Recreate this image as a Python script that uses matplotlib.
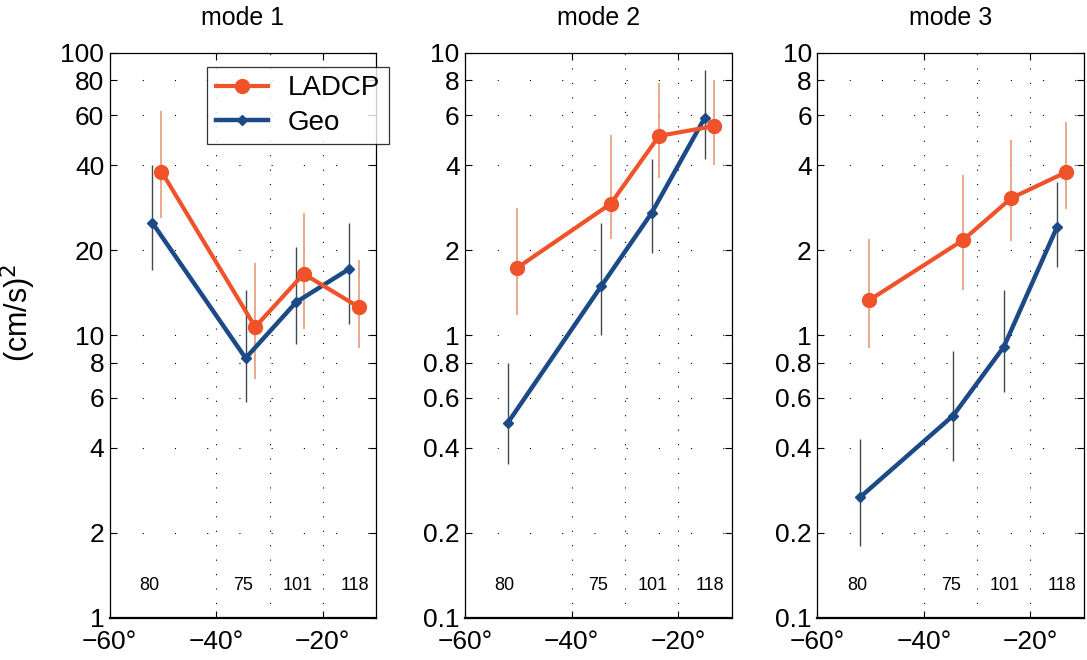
import matplotlib
matplotlib.use('Agg')
import matplotlib.pyplot as plt
from matplotlib.ticker import FixedLocator, NullLocator

plt.rcParams['font.family'] = ['Liberation Sans', 'DejaVu Sans']

# latitud de cada estación (las dos series están un poco desplazadas)
lat_ladcp = [-50.3, -32.7, -23.6, -13.3]
lat_geo = [-52.0, -34.5, -25.0, -15.0]
stations = ['80', '75', '101', '118']
station_x = [-52.6, -35.0, -24.8, -14.0]

titles = ['mode 1', 'mode 2', 'mode 3']

# LADCP: valor, límite superior e inferior de la barra de error
ladcp = [[38, 10.7, 16.5, 12.6], [1.73, 2.92, 5.08, 5.5], [1.33, 2.17, 3.06, 3.78]]
ladcp_hi = [[62, 18, 27, 18.5], [2.82, 5.1, 7.8, 8.0], [2.2, 3.7, 4.9, 5.7]]
ladcp_lo = [[26, 7.0, 10.5, 9.0], [1.18, 2.2, 3.6, 4.0], [0.9, 1.45, 2.15, 2.8]]

# Geostrófico
geo = [[25, 8.3, 13.1, 17.2], [0.49, 1.49, 2.71, 5.9], [0.267, 0.52, 0.91, 2.42]]
geo_hi = [[40, 14.5, 20.5, 25], [0.8, 2.5, 4.2, 8.7], [0.43, 0.88, 1.45, 3.5]]
geo_lo = [[17, 5.8, 9.3, 11], [0.35, 1.0, 1.95, 4.2], [0.18, 0.36, 0.63, 1.75]]

ylims = [(1, 100), (0.1, 10), (0.1, 10)]
yticks = [[1, 2, 4, 6, 8, 10, 20, 40, 60, 80, 100],
          [0.1, 0.2, 0.4, 0.6, 0.8, 1, 2, 4, 6, 8, 10],
          [0.1, 0.2, 0.4, 0.6, 0.8, 1, 2, 4, 6, 8, 10]]
xticks = [-60, -40, -20]

c_ladcp = '#F0522A'
c_ladcp_err = '#E89A78'
c_geo = '#1B4A86'
c_geo_err = '#404850'


def err(v, hi, lo):
    return [[a - b for a, b in zip(v, lo)], [b - a for a, b in zip(v, hi)]]


fig = plt.figure(figsize=(10.87, 6.6), dpi=100)
lefts = [0.101, 0.428, 0.752]
width = 0.245
axes = []
for i in range(3):
    ax = fig.add_axes([lefts[i], 0.064, width, 0.856])
    axes.append(ax)

    ax.errorbar(lat_ladcp, ladcp[i], yerr=err(ladcp[i], ladcp_hi[i], ladcp_lo[i]),
                fmt='none', ecolor=c_ladcp_err, elinewidth=1.2, zorder=2)
    ax.errorbar(lat_geo, geo[i], yerr=err(geo[i], geo_hi[i], geo_lo[i]),
                fmt='none', ecolor=c_geo_err, elinewidth=1.0, zorder=2)
    ax.plot(lat_ladcp, ladcp[i], '-o', color=c_ladcp, lw=3, ms=10,
            label='LADCP', zorder=4)
    ax.plot(lat_geo, geo[i], '-D', color=c_geo, lw=3.2, ms=5,
            label='Geo', zorder=3)

    ax.set_yscale('log')
    ax.set_ylim(*ylims[i])
    ax.set_xlim(-60, -10)
    ax.yaxis.set_major_locator(FixedLocator(yticks[i]))
    ax.yaxis.set_minor_locator(NullLocator())
    ax.set_yticklabels([('%g' % t) for t in yticks[i]])
    ax.set_xticks(xticks)
    ax.set_xticklabels(['\u2212%d\u00b0' % abs(t) for t in xticks])
    ax.tick_params(direction='in', length=5, width=0.8, labelsize=19,
                   top=True, right=True, pad=4)
    ax.tick_params(axis='x', pad=9)

    # rejilla punteada, muy dispersa como en el original
    for gx in [-40, -30, -20]:
        ax.axvline(gx, color='k', lw=0.8, ls=(0, (1, 12)), zorder=1)
    for gy in yticks[i][1:-1]:
        ax.axhline(gy, color='k', lw=0.8, ls=(0, (1, 28)), zorder=1)

    ybot = ylims[i][0] * 1.3
    for sx, s in zip(station_x, stations):
        ax.text(sx, ybot, s, ha='center', va='center', fontsize=13)

    ax.set_title(titles[i], fontsize=18, pad=20)
    for sp in ax.spines.values():
        sp.set_linewidth(0.9)
    ax.spines['bottom'].set_linewidth(1.6)

axes[0].set_ylabel('(cm/s)$^2$', fontsize=22)
axes[0].yaxis.set_label_coords(-0.27, 0.54)
leg = axes[0].legend(loc='upper left', bbox_to_anchor=(0.366, 0.975), fontsize=20,
                     frameon=True, fancybox=False, edgecolor='k',
                     borderpad=0.3, handlelength=1.9, handletextpad=0.7,
                     labelspacing=0.3, borderaxespad=0)
leg.get_frame().set_linewidth(0.9)
leg.set_zorder(10)

output_path = 'out.png'
plt.savefig(output_path, dpi=100)
print(f'Gráfica guardada como {output_path}')
